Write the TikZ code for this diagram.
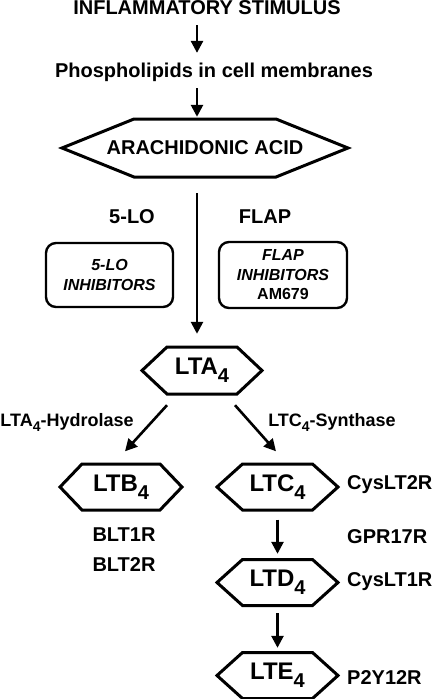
\documentclass[tikz,border=0pt]{standalone}
\usepackage{fontspec}
\setmainfont{Liberation Sans}
\usetikzlibrary{arrows.meta}

\tikzset{
    lbl/.style={font=\fontsize{20}{24}\selectfont\bfseries, inner sep=0pt},
    enz/.style={font=\fontsize{18}{22}\selectfont\bfseries, inner sep=0pt},
    hexlbl/.style={font=\fontsize{24}{28}\selectfont\bfseries, inner sep=0pt, minimum height=47pt},
    inhib/.style={draw, line width=2.4pt, rounded corners=10pt, align=center, inner sep=0pt,
        font=\fontsize{16}{19.5}\selectfont\bfseries},
    arr/.style={line width=2.6pt, -{Triangle[length=12pt,width=12pt]}},
    hexline/.style={line width=3pt, line join=miter},
}
% hexagon round a node: name, half top edge, half height, half width
\newcommand\hexat[4]{\draw[hexline] ([shift={(-#2,-#3)}]#1.center) -- ([shift={(#2,-#3)}]#1.center)
    -- ([shift={(#4,0)}]#1.center) -- ([shift={(#2,#3)}]#1.center)
    -- ([shift={(-#2,#3)}]#1.center) -- ([shift={(-#4,0)}]#1.center) -- cycle;}
\newcommand\lsub[1]{\raisebox{-0.32em}{\fontsize{20}{20}\selectfont #1}}
\newcommand\esub[1]{\raisebox{-0.28em}{\fontsize{14}{14}\selectfont #1}}

\begin{document}
\begin{tikzpicture}[x=1pt, y=-1pt]
            \useasboundingbox (0,0) rectangle (433,699);
            \coordinate (col) at (197,0);

            \node[lbl] (infl) at (207,8) {INFLAMMATORY STIMULUS};
            \node[lbl] (phos) at (214,72) {Phospholipids in cell membranes};
            \node[lbl, minimum height=58pt] (arach) at (205,148) {ARACHIDONIC ACID};
            \hexat{arach}{71}{29}{143}

            \node[lbl] (lo) at (132,217) {5-LO};
            \node[lbl] (flap) at (265,217) {FLAP};
            \node[inhib, minimum width=127pt, minimum height=64pt] (loinh) at (109.5,275)
                {\itshape 5-LO\\\itshape INHIBITORS};
            \node[inhib, minimum width=128pt, minimum height=66pt] (flapinh) at (283,275)
                {\itshape FLAP\\\itshape INHIBITORS\\AM679};

            \node[hexlbl] (lta) at (202,370.5) {LTA\lsub{4}};
            \hexat{lta}{35}{23.5}{60}
            \node[enz] (hydro) at (67,422) {LTA\esub{4}-Hydrolase};
            \node[enz] (synth) at (332,422) {LTC\esub{4}-Synthase};

            \node[hexlbl] (ltb) at (121,487) {LTB\lsub{4}};
            \hexat{ltb}{39}{23}{61}
            \node[hexlbl] (ltc) at (277.5,487) {LTC\lsub{4}};
            \hexat{ltc}{35}{23}{60.5}
            \node[hexlbl] (ltd) at (277.5,582.5) {LTD\lsub{4}};
            \hexat{ltd}{35}{23}{60.5}
            \node[hexlbl] (lte) at (277.5,675.5) {LTE\lsub{4}};
            \hexat{lte}{35}{23}{60.5}

            \node[lbl] (blt1) at (124,535) {BLT1R};
            \node[lbl] (blt2) at (124,565) {BLT2R};
            \node[lbl, anchor=west] (cys2) at (347,485) {CysLT2R};
            \node[lbl, anchor=west] (gpr) at (347,537) {GPR17R};
            \node[lbl, anchor=west] (cys1) at (347,582) {CysLT1R};
            \node[lbl, anchor=west] (p2y) at (347,678) {P2Y12R};

            % arrows
            \draw[arr, shorten <=10pt, shorten >=9.6pt] (infl.south -| col) -- (phos.north -| col);
            \draw[arr, shorten <=6.6pt, shorten >=2pt] (phos.south -| col) -- (arach.north -| col);
            \draw[arr, shorten <=16pt, shorten >=13pt] (arach.south -| col) -- (lta.north -| col);
            \draw[arr] ([shift={(-35,11)}]lta.south) -- ([shift={(4,-12)}]ltb.north);
            \draw[arr] ([shift={(33,11)}]lta.south) -- ([shift={(-1.5,-12)}]ltc.north);
            \draw[arr, shorten <=9pt, shorten >=5pt] (ltc.south) -- (ltd.north);
            \draw[arr, shorten <=7pt, shorten >=4pt] (ltd.south) -- (lte.north);
\end{tikzpicture}
\end{document}
